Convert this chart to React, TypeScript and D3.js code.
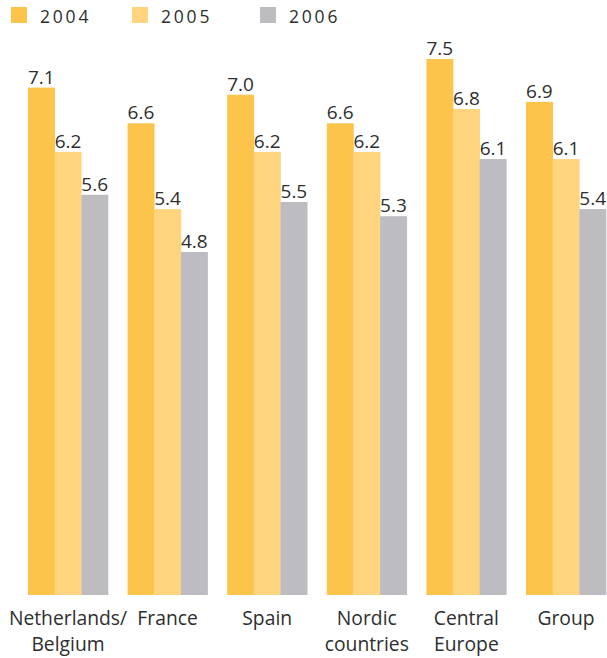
import React from "react";
import * as d3 from "d3";

const categories = [
  ["Netherlands/", "Belgium"],
  ["France"],
  ["Spain"],
  ["Nordic", "countries"],
  ["Central", "Europe"],
  ["Group"],
];
const categoryKeys = ["Netherlands/Belgium", "France", "Spain", "Nordic countries", "Central Europe", "Group"];
const seriesNames = ["2004", "2005", "2006"];
const values2004 = [7.1, 6.6, 7.0, 6.6, 7.5, 6.9];
const values2005 = [6.2, 5.4, 6.2, 6.2, 6.8, 6.1];
const values2006 = [5.6, 4.8, 5.5, 5.3, 6.1, 5.4];
const seriesValues = [values2004, values2005, values2006];
const colors = ["#fdc44b", "#fed47f", "#bdbdc1"];

const W = 607;
const H = 658;
const FONT = "'Open Sans', 'DejaVu Sans', sans-serif";

export default function App() {
  const baseline = 595;
  const y = d3.scaleLinear().domain([0, 7.5]).range([baseline, 59]);
  const x0 = d3.scaleBand<string>().domain(categoryKeys).range([28, 606]).paddingInner(0.197).paddingOuter(0);
  const x1 = d3.scaleBand<string>().domain(seriesNames).range([0, x0.bandwidth()]).padding(0);
  const legendX = [11, 132, 260];

  return (
    <svg width={W} height={H} style={{ position: "absolute", left: 0, top: 0 }}>
      <rect width={W} height={H} fill="#fff" />
      {seriesNames.map((s, i) => (
        <g key={s}>
          <rect x={legendX[i]} y={7} width={16} height={16} fill={colors[i]} />
          <text x={legendX[i] + 29} y={23} fontFamily={FONT} fontSize={17.5} letterSpacing={2.8} fill="#2e2e2e">
            {s}
          </text>
        </g>
      ))}
      {categoryKeys.map((c, ci) => (
        <g key={c} transform={`translate(${x0(c)},0)`}>
          {seriesNames.map((s, si) => {
            const v = seriesValues[si][ci];
            const bx = x1(s)!;
            return (
              <g key={s}>
                <rect x={bx} y={y(v)} width={x1.bandwidth() + 0.3} height={baseline - y(v)} fill={colors[si]} />
                <text x={bx} y={y(v) - 4} fontFamily={FONT} fontSize={19} fill="#2e2e2e">
                  {v.toFixed(1)}
                </text>
              </g>
            );
          })}
          {categories[ci].map((line, li) => (
            <text
              key={li}
              x={x0.bandwidth() / 2}
              y={625 + li * 26}
              textAnchor="middle"
              fontFamily={FONT}
              fontSize={19.3}
              fill="#2e2e2e"
            >
              {line}
            </text>
          ))}
        </g>
      ))}
    </svg>
  );
}
